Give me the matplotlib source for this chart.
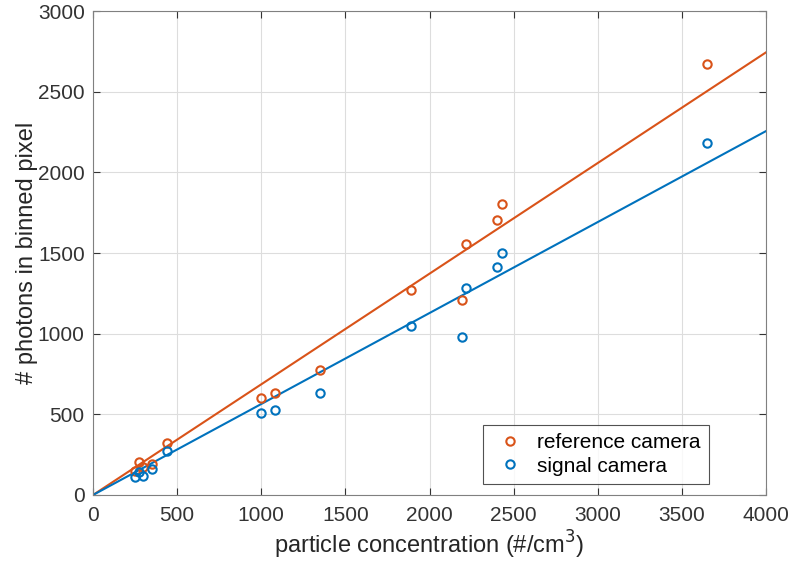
import matplotlib
matplotlib.use("Agg")
import matplotlib.pyplot as plt
import numpy as np

plt.rcParams['font.family'] = ['Liberation Sans', 'DejaVu Sans']

conc = [250, 275, 300, 350, 440, 1000, 1080, 1350, 1890, 2195, 2215, 2400, 2430, 3650]
ref_photons = [150, 205, 175, 190, 325, 600, 630, 775, 1270, 1210, 1555, 1705, 1805, 2670]
sig_photons = [110, 145, 120, 160, 270, 510, 525, 635, 1045, 980, 1285, 1415, 1500, 2185]
ref_slope = 0.686
sig_slope = 0.564
fit_x = [0, 4000]

c_ref = '#D95319'
c_sig = '#0072BD'

fig = plt.figure(figsize=(7.9, 5.71), dpi=100)
ax = fig.add_axes([0.1177, 0.1331, 0.852, 0.8476])

ax.plot(fit_x, [v * ref_slope for v in fit_x], color=c_ref, lw=1.5, zorder=2)
ax.plot(fit_x, [v * sig_slope for v in fit_x], color=c_sig, lw=1.5, zorder=2)
ax.plot(conc, ref_photons, 'o', mfc='none', mec=c_ref, mew=1.5, ms=6, label='reference camera', zorder=3)
ax.plot(conc, sig_photons, 'o', mfc='none', mec=c_sig, mew=1.5, ms=6, label='signal camera', zorder=3)

ax.set_xlim(0, 4000)
ax.set_ylim(0, 3000)
ax.set_xticks(np.arange(0, 4001, 500))
ax.set_yticks(np.arange(0, 3001, 500))
ax.grid(True, color='#dddddd', lw=0.8)
ax.set_axisbelow(True)
ax.tick_params(direction='in', labelsize=15, colors='#333333', length=5, top=True, right=True,
               labeltop=False, labelright=False)
ax.tick_params(axis='x', pad=8)
ax.tick_params(axis='y', pad=6)
for s in ax.spines.values():
    s.set_color('#808080')
ax.set_xlabel('particle concentration (#/cm$^3$)', fontsize=17, color='#262626', labelpad=3)
ax.set_ylabel('# photons in binned pixel', fontsize=17, color='#262626', labelpad=0)

leg = ax.legend(loc='lower right', bbox_to_anchor=(0.915, 0.023), borderaxespad=0, fontsize=15,
                frameon=True, fancybox=False, edgecolor='#262626', handletextpad=0.4,
                borderpad=0.4, labelspacing=0.2, handlelength=1.8)
leg.get_frame().set_linewidth(0.8)

fig.savefig('out.png', dpi=100)
